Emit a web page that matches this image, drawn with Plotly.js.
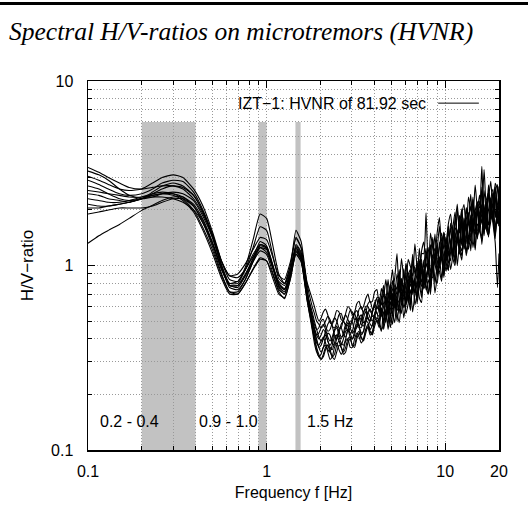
<!DOCTYPE html>
<html>
<head>
<meta charset="utf-8">
<script src="https://cdn.plot.ly/plotly-3.0.1.min.js"></script>
<style>html,body{margin:0;padding:0;background:#fff;}#wrap{position:relative;width:528px;height:529px;}#chart{width:528px;height:529px;}#rule{position:absolute;left:0;top:2px;width:528px;height:3px;background:#000;z-index:5;}</style>
</head>
<body>
<div id="wrap"><div id="chart"></div><div id="rule"></div></div>
<script>
// Frequencies (Hz)
const freq = [0.1, 0.115, 0.13, 0.15, 0.17, 0.2, 0.23, 0.26, 0.3, 0.34, 0.39, 0.44, 0.5, 0.56, 0.62, 0.69, 0.76, 0.84, 0.92, 1.0, 1.08, 1.17, 1.26, 1.36, 1.46, 1.56, 1.68,
  1.799, 1.851, 1.905, 1.961, 2.018, 2.077, 2.138, 2.2, 2.265, 2.331, 2.399, 2.469, 2.541, 2.616, 2.692, 2.771, 2.851, 2.935, 3.02, 3.109, 3.199, 3.293, 3.388, 3.487, 3.589, 3.694, 3.802, 3.913, 4.027, 4.145,
  4.266, 4.391, 4.519, 4.651, 4.786, 4.926, 5.07, 5.218, 5.37, 5.527, 5.689, 5.855, 6.026, 6.202, 6.383, 6.57, 6.761, 6.959, 7.161, 7.371, 7.586, 7.808, 8.035, 8.27, 8.511, 8.76, 9.016, 9.279, 9.55, 9.829,
  10.12, 10.41, 10.72, 11.03, 11.35, 11.68, 12.02, 12.38, 12.74, 13.11, 13.49, 13.89, 14.29, 14.71, 15.14, 15.58, 16.03, 16.5, 16.98, 17.48, 17.99, 18.51, 19.05, 19.61, 20.0];

// H/V ratio curves (one per time window)
const curve01 = [3.4, 3.2, 3.0, 2.8, 2.65, 2.6, 2.65, 2.7, 2.7, 2.6, 2.3, 1.9, 1.45, 1.05, 0.88, 0.86, 0.95, 1.12, 1.25, 1.18, 0.98, 0.82, 0.78, 0.95, 1.25, 1.1, 0.72,
  0.56, 0.5, 0.45, 0.41, 0.39, 0.4, 0.44, 0.48, 0.5, 0.47, 0.42, 0.4, 0.43, 0.48, 0.5, 0.47, 0.44, 0.46, 0.52, 0.55, 0.5, 0.47, 0.5, 0.56, 0.58, 0.52, 0.5, 0.56, 0.62, 0.58,
  0.61, 0.54, 0.7, 0.62, 0.54, 0.78, 0.64, 0.75, 0.57, 0.9, 0.74, 0.68, 0.92, 0.64, 0.86, 1.09, 0.79, 0.76, 1.04, 0.92, 0.76, 1.18, 1.05, 0.92, 1.42, 1.03, 1.22, 0.97, 1.42, 1.22,
  1.07, 1.56, 1.27, 1.1, 1.85, 1.46, 1.32, 1.77, 1.23, 2.03, 1.74, 1.53, 2.35, 1.51, 2.0, 1.77, 2.66, 1.74, 1.57, 2.39, 2.12, 1.73, 2.68, 1.98, 2.31];
const curve02 = [3.25, 3.1, 2.9, 2.6, 2.4, 2.3, 2.35, 2.45, 2.5, 2.45, 2.25, 1.85, 1.4, 1.0, 0.78, 0.76, 0.88, 1.1, 1.35, 1.28, 1.02, 0.8, 0.74, 0.92, 1.28, 1.15, 0.7,
  0.5, 0.44, 0.39, 0.36, 0.37, 0.4, 0.42, 0.39, 0.36, 0.35, 0.38, 0.42, 0.41, 0.38, 0.37, 0.4, 0.45, 0.43, 0.4, 0.42, 0.47, 0.46, 0.42, 0.44, 0.5, 0.49, 0.45, 0.48, 0.54, 0.5,
  0.51, 0.58, 0.48, 0.68, 0.53, 0.49, 0.68, 0.63, 0.57, 0.63, 0.85, 0.59, 0.65, 0.84, 0.61, 0.78, 0.85, 0.62, 0.79, 1.04, 0.75, 0.81, 1.01, 0.74, 0.97, 1.14, 0.88, 1.0, 1.14, 0.86,
  1.28, 1.03, 1.18, 1.51, 1.03, 1.41, 1.25, 1.77, 1.22, 1.43, 1.75, 1.2, 1.68, 1.96, 1.44, 1.64, 1.92, 1.45, 2.24, 1.66, 1.87, 2.16, 1.59, 2.01, 1.76];
const curve03 = [3.05, 2.9, 2.75, 2.6, 2.55, 2.6, 2.8, 3.0, 3.1, 3.0, 2.6, 2.1, 1.5, 1.05, 0.84, 0.82, 0.98, 1.38, 1.9, 1.8, 1.3, 0.9, 0.8, 1.0, 1.55, 1.35, 0.82,
  0.66, 0.6, 0.54, 0.5, 0.52, 0.56, 0.58, 0.54, 0.49, 0.48, 0.52, 0.57, 0.56, 0.51, 0.5, 0.55, 0.6, 0.58, 0.54, 0.56, 0.62, 0.64, 0.58, 0.6, 0.66, 0.7, 0.63, 0.64, 0.72, 0.74,
  0.61, 0.75, 0.68, 0.84, 0.67, 0.77, 0.95, 0.68, 0.9, 0.78, 1.09, 0.86, 0.78, 1.08, 0.99, 0.87, 1.31, 0.99, 0.9, 1.2, 1.34, 1.03, 0.97, 1.5, 1.24, 1.12, 1.51, 1.82, 1.25, 1.51,
  1.31, 1.68, 1.9, 1.47, 1.68, 2.15, 1.5, 1.91, 2.14, 1.53, 2.35, 2.01, 1.85, 2.73, 2.04, 2.41, 1.9, 3.31, 2.08, 2.35, 2.86, 1.98, 2.79, 2.57, 2.23];
const curve04 = [2.9, 2.75, 2.6, 2.45, 2.4, 2.45, 2.6, 2.8, 2.9, 2.85, 2.5, 2.0, 1.45, 1.0, 0.8, 0.8, 0.95, 1.25, 1.62, 1.55, 1.15, 0.85, 0.8, 1.0, 1.42, 1.25, 0.78,
  0.46, 0.4, 0.35, 0.32, 0.31, 0.33, 0.36, 0.37, 0.34, 0.32, 0.33, 0.37, 0.39, 0.36, 0.34, 0.36, 0.4, 0.41, 0.37, 0.37, 0.42, 0.44, 0.4, 0.4, 0.45, 0.48, 0.43, 0.44, 0.5, 0.52,
  0.5, 0.45, 0.48, 0.58, 0.45, 0.54, 0.48, 0.61, 0.55, 0.49, 0.64, 0.74, 0.55, 0.62, 0.74, 0.56, 0.7, 0.83, 0.67, 0.63, 0.96, 0.76, 0.7, 0.88, 0.98, 0.71, 0.87, 1.11, 0.85, 1.05,
  0.93, 1.21, 0.95, 1.13, 1.44, 1.0, 1.29, 1.2, 1.54, 1.13, 1.35, 1.8, 1.25, 1.53, 1.42, 1.89, 1.3, 1.74, 2.14, 1.47, 1.74, 1.99, 1.45, 1.94, 1.64];
const curve05 = [2.7, 2.6, 2.45, 2.3, 2.25, 2.3, 2.45, 2.6, 2.7, 2.65, 2.4, 1.95, 1.4, 0.98, 0.76, 0.74, 0.84, 1.05, 1.3, 1.26, 1.0, 0.76, 0.7, 0.9, 1.3, 1.18, 0.72,
  0.52, 0.46, 0.42, 0.4, 0.42, 0.45, 0.43, 0.39, 0.37, 0.39, 0.44, 0.46, 0.42, 0.4, 0.43, 0.48, 0.47, 0.43, 0.44, 0.5, 0.52, 0.47, 0.46, 0.52, 0.56, 0.52, 0.5, 0.56, 0.6, 0.55,
  0.53, 0.67, 0.62, 0.53, 0.61, 0.74, 0.58, 0.62, 0.74, 0.9, 0.65, 0.73, 0.64, 0.89, 0.95, 0.73, 0.83, 1.05, 0.76, 0.92, 0.86, 1.07, 1.25, 0.88, 0.86, 1.14, 1.28, 1.04, 1.19, 1.52,
  1.09, 1.25, 1.61, 1.12, 1.5, 1.33, 1.87, 1.33, 1.6, 1.87, 1.35, 1.79, 2.25, 1.62, 1.54, 2.24, 1.91, 1.48, 2.26, 2.48, 1.78, 1.96, 2.67, 1.8, 2.22];
const curve06 = [2.55, 2.5, 2.45, 2.4, 2.35, 2.35, 2.4, 2.45, 2.45, 2.35, 2.1, 1.7, 1.25, 0.9, 0.72, 0.7, 0.8, 0.95, 1.08, 1.06, 0.9, 0.72, 0.66, 0.85, 1.18, 1.08, 0.68,
  0.48, 0.41, 0.36, 0.33, 0.31, 0.32, 0.35, 0.37, 0.35, 0.32, 0.31, 0.34, 0.37, 0.36, 0.33, 0.34, 0.38, 0.4, 0.37, 0.36, 0.4, 0.43, 0.41, 0.39, 0.43, 0.47, 0.44, 0.42, 0.47, 0.5,
  0.48, 0.44, 0.56, 0.54, 0.48, 0.64, 0.55, 0.49, 0.66, 0.62, 0.55, 0.78, 0.61, 0.69, 0.57, 0.83, 0.78, 0.65, 0.96, 0.71, 0.78, 0.92, 0.7, 0.88, 1.08, 0.8, 1.0, 0.93, 0.82, 1.2,
  1.03, 0.94, 1.32, 1.19, 1.04, 1.56, 1.23, 1.07, 1.5, 1.66, 1.22, 1.46, 1.72, 1.24, 2.01, 1.53, 1.44, 1.98, 1.77, 1.43, 2.16, 1.75, 1.52, 2.05, 1.63];
const curve07 = [2.45, 2.4, 2.3, 2.25, 2.2, 2.3, 2.5, 2.7, 2.8, 2.7, 2.4, 1.95, 1.45, 1.05, 0.88, 0.9, 1.02, 1.22, 1.42, 1.38, 1.12, 0.88, 0.84, 1.05, 1.4, 1.25, 0.8,
  0.6, 0.55, 0.5, 0.48, 0.46, 0.47, 0.5, 0.53, 0.51, 0.47, 0.46, 0.49, 0.54, 0.55, 0.5, 0.48, 0.52, 0.57, 0.56, 0.51, 0.52, 0.58, 0.6, 0.55, 0.56, 0.62, 0.64, 0.58, 0.6, 0.67,
  0.67, 0.61, 0.74, 0.65, 0.84, 0.65, 0.74, 0.86, 1.16, 0.71, 0.85, 0.74, 1.03, 0.88, 0.81, 1.15, 0.9, 1.02, 0.84, 1.16, 1.16, 1.93, 0.99, 1.18, 1.39, 1.01, 1.22, 1.63, 1.17, 1.47,
  1.32, 1.64, 1.29, 1.6, 1.95, 1.45, 1.65, 2.03, 1.48, 1.96, 1.83, 1.53, 2.29, 1.86, 2.2, 2.05, 3.45, 1.91, 1.84, 2.52, 2.11, 2.46, 1.82, 2.75, 2.31];
const curve08 = [2.3, 2.25, 2.2, 2.2, 2.25, 2.35, 2.45, 2.5, 2.45, 2.3, 2.0, 1.6, 1.2, 0.88, 0.72, 0.72, 0.84, 1.05, 1.25, 1.22, 0.98, 0.78, 0.74, 0.93, 1.25, 1.12, 0.7,
  0.5, 0.45, 0.42, 0.43, 0.46, 0.48, 0.45, 0.41, 0.39, 0.41, 0.45, 0.47, 0.44, 0.41, 0.42, 0.46, 0.49, 0.46, 0.43, 0.45, 0.5, 0.52, 0.48, 0.47, 0.52, 0.56, 0.52, 0.5, 0.55, 0.6,
  0.58, 0.55, 0.5, 0.68, 0.62, 0.53, 0.71, 0.6, 0.67, 0.83, 0.61, 0.67, 0.79, 0.63, 0.9, 0.81, 0.71, 0.81, 1.08, 0.77, 0.83, 1.02, 0.92, 0.8, 1.07, 1.24, 0.92, 1.0, 1.31, 0.99,
  1.39, 1.14, 1.29, 1.65, 1.15, 1.34, 1.59, 1.28, 1.81, 1.49, 1.3, 1.87, 1.68, 1.51, 2.17, 1.62, 1.75, 2.14, 1.58, 2.01, 2.33, 1.69, 1.33, 0.76, 1.16];
const curve09 = [2.15, 2.1, 2.1, 2.15, 2.2, 2.3, 2.35, 2.35, 2.3, 2.2, 2.0, 1.7, 1.3, 0.95, 0.78, 0.78, 0.88, 1.05, 1.2, 1.15, 0.92, 0.74, 0.7, 0.88, 1.15, 1.05, 0.66,
  0.47, 0.42, 0.38, 0.37, 0.39, 0.41, 0.38, 0.35, 0.34, 0.37, 0.41, 0.42, 0.39, 0.37, 0.4, 0.44, 0.45, 0.41, 0.4, 0.44, 0.48, 0.47, 0.43, 0.44, 0.49, 0.52, 0.48, 0.47, 0.53, 0.56,
  0.48, 0.59, 0.55, 0.49, 0.7, 0.59, 0.54, 0.7, 0.66, 0.55, 0.8, 0.75, 0.63, 0.72, 0.93, 0.7, 0.81, 0.67, 0.93, 1.08, 0.77, 0.87, 0.99, 0.75, 1.14, 1.02, 0.9, 1.34, 1.06, 0.94,
  1.3, 1.17, 1.06, 1.55, 1.22, 1.44, 1.15, 1.67, 1.49, 1.31, 1.94, 1.45, 1.57, 1.92, 1.39, 1.84, 2.14, 1.57, 1.85, 1.43, 2.18, 1.84, 2.41, 1.68, 1.98];
const curve10 = [2.05, 2.05, 2.1, 2.15, 2.2, 2.3, 2.4, 2.45, 2.4, 2.25, 1.95, 1.55, 1.15, 0.85, 0.7, 0.7, 0.8, 0.96, 1.1, 1.06, 0.86, 0.7, 0.67, 0.85, 1.15, 1.05, 0.66,
  0.45, 0.38, 0.34, 0.32, 0.33, 0.36, 0.37, 0.34, 0.31, 0.32, 0.36, 0.38, 0.35, 0.33, 0.35, 0.39, 0.4, 0.36, 0.36, 0.4, 0.43, 0.41, 0.38, 0.4, 0.45, 0.46, 0.42, 0.43, 0.49, 0.5,
  0.46, 0.58, 0.45, 0.53, 0.59, 0.46, 0.54, 0.68, 0.5, 0.61, 0.71, 0.52, 0.62, 0.74, 0.63, 0.87, 0.61, 0.7, 0.79, 0.67, 0.95, 0.74, 0.84, 0.7, 1.01, 0.86, 0.8, 1.05, 1.22, 0.88,
  1.11, 0.94, 1.34, 1.1, 1.0, 1.4, 1.26, 1.13, 1.64, 1.17, 1.46, 1.36, 1.74, 1.21, 1.68, 1.56, 1.37, 2.0, 1.57, 1.46, 1.94, 1.79, 1.4, 2.08, 1.68];
const curve11 = [1.9, 1.95, 2.0, 2.05, 2.05, 2.05, 2.1, 2.2, 2.3, 2.3, 2.1, 1.75, 1.3, 0.95, 0.8, 0.82, 0.95, 1.15, 1.3, 1.25, 1.0, 0.8, 0.75, 0.92, 1.22, 1.1, 0.72,
  0.54, 0.48, 0.45, 0.46, 0.5, 0.51, 0.47, 0.44, 0.45, 0.49, 0.52, 0.5, 0.46, 0.46, 0.51, 0.54, 0.51, 0.48, 0.5, 0.55, 0.57, 0.53, 0.51, 0.55, 0.6, 0.6, 0.56, 0.57, 0.63, 0.66,
  0.55, 0.67, 0.78, 0.61, 0.68, 0.79, 0.6, 0.79, 0.74, 0.95, 0.7, 0.77, 1.0, 0.85, 0.77, 1.02, 0.96, 0.84, 1.24, 0.93, 1.01, 1.24, 0.93, 1.19, 1.11, 1.48, 1.0, 1.27, 1.5, 1.23,
  1.41, 1.21, 1.7, 1.46, 1.36, 2.02, 1.51, 1.79, 1.42, 2.06, 1.76, 2.43, 1.66, 1.98, 2.22, 1.62, 2.51, 2.05, 1.91, 2.74, 1.88, 2.48, 2.29, 1.87, 2.68];
const curve12 = [1.32, 1.45, 1.55, 1.67, 1.8, 1.99, 2.12, 2.25, 2.35, 2.35, 2.15, 1.78, 1.32, 0.96, 0.78, 0.78, 0.9, 1.08, 1.28, 1.24, 0.98, 0.77, 0.72, 0.9, 1.2, 1.08, 0.7,
  0.5, 0.44, 0.4, 0.36, 0.34, 0.36, 0.4, 0.43, 0.42, 0.38, 0.37, 0.4, 0.45, 0.46, 0.42, 0.41, 0.45, 0.5, 0.49, 0.45, 0.46, 0.52, 0.54, 0.49, 0.5, 0.56, 0.58, 0.53, 0.54, 0.61,
  0.66, 0.53, 0.6, 0.67, 0.54, 0.67, 0.83, 0.64, 0.61, 0.78, 0.73, 0.96, 0.68, 0.74, 0.92, 0.82, 0.71, 1.03, 0.92, 0.81, 1.07, 0.81, 0.98, 1.3, 0.95, 1.11, 1.31, 0.99, 1.16, 1.5,
  1.11, 1.52, 1.31, 1.15, 1.6, 1.5, 1.32, 1.96, 1.55, 1.4, 1.79, 2.09, 1.62, 1.48, 2.14, 1.91, 1.71, 2.55, 1.92, 1.66, 2.28, 2.6, 1.82, 2.14, 2.58];

// Highlighted frequency bands [from, to] in Hz, their value span, and labels
const bands = [[0.2, 0.4], [0.9, 1.0], [1.45, 1.55]];
const bandTop = 6;
const bandBottom = 0.1;
const bandLabels = ['0.2 - 0.4', '0.9 - 1.0', '1.5 Hz'];

// Ticks
const xTickVals = [0.1, 1, 10, 20];
const xTickText = ['0.1', '1', '10', '20'];
const xMinorVals = [0.2, 0.3, 0.4, 0.5, 0.6, 0.7, 0.8, 0.9, 2, 3, 4, 5, 6, 7, 8, 9];
const yTickVals = [0.1, 1, 10];
const yTickText = ['0.1', '1', '10'];
const yMinorVals = [0.2, 0.3, 0.4, 0.5, 0.6, 0.7, 0.8, 0.9, 2, 3, 4, 5, 6, 7, 8, 9];

const legendText = 'IZT\u22121: HVNR of 81.92 sec';
const titleText = 'Spectral H/V-ratios on microtremors (HVNR)';

const curves = [curve01, curve02, curve03, curve04, curve05, curve06, curve07, curve08, curve09, curve10, curve11, curve12];

const traces = curves.map(c => ({
  x: freq, y: c, type: 'scatter', mode: 'lines',
  line: {color: '#000', width: 1.1, shape: 'spline', smoothing: 0.5},
  showlegend: false, hoverinfo: 'skip'
}));

const F = 'Liberation Sans, Arial, sans-serif';
const gridStyle = {showgrid: true, gridcolor: '#999', griddash: '1px,2px', gridwidth: 1};

const shapes = bands.map(b => ({
  type: 'rect', xref: 'x', yref: 'y', layer: 'below',
  x0: b[0], x1: b[1], y0: bandBottom, y1: bandTop,
  fillcolor: 'rgba(128,128,128,0.48)', line: {width: 0}
}));
// legend sample line
shapes.push({type: 'line', xref: 'paper', yref: 'paper', x0: 0.852, x1: 0.951, y0: 0.94, y1: 0.94, line: {color: '#000', width: 1}});

const labelX = [0.0998, 0.342, 0.589];
const annotations = bandLabels.map((t, i) => ({
  text: t, xref: 'paper', yref: 'paper', x: labelX[i], y: 0.076, showarrow: false,
  xanchor: 'center', yanchor: 'middle', font: {family: F, size: 16, color: '#000'}
}));
annotations.push({text: legendText, xref: 'paper', yref: 'paper', x: 0.827, y: 0.94, showarrow: false,
  xanchor: 'right', yanchor: 'middle', font: {family: F, size: 16, color: '#000'}});

const layout = {
  width: 528, height: 529,
  margin: {l: 88, r: 29, t: 81, b: 79},
  paper_bgcolor: '#fff', plot_bgcolor: '#fff',
  title: {text: '<i>' + titleText + '</i>', font: {family: 'Liberation Serif, Times New Roman, serif', size: 25.5, color: '#000'},
    x: 9 / 528, xanchor: 'left', xref: 'container', y: 1 - 31 / 529, yref: 'container', yanchor: 'middle'},
  xaxis: Object.assign({
    type: 'log', range: [-1, Math.log10(20)], tickmode: 'array', tickvals: xTickVals, ticktext: xTickText,
    ticks: 'inside', ticklen: 7, tickcolor: '#000', tickwidth: 1,
    showline: true, linecolor: '#000', linewidth: 1.5, mirror: 'allticks', zeroline: false,
    tickfont: {family: F, size: 16, color: '#000'}, ticklabelstandoff: 6,
    title: {text: 'Frequency f [Hz]', font: {family: F, size: 16, color: '#000'}, standoff: 8},
    minor: Object.assign({tickmode: 'array', tickvals: xMinorVals, ticks: 'inside', ticklen: 4, tickcolor: '#000'}, gridStyle)
  }, gridStyle),
  yaxis: Object.assign({
    type: 'log', range: [-1, 1], tickmode: 'array', tickvals: yTickVals, ticktext: yTickText,
    ticks: 'inside', ticklen: 7, tickcolor: '#000', tickwidth: 1,
    showline: true, linecolor: '#000', linewidth: 1.5, mirror: 'allticks', zeroline: false,
    tickfont: {family: F, size: 16, color: '#000'}, ticklabelstandoff: 10,
    title: {text: 'H/V\u2212ratio', font: {family: F, size: 17, color: '#000'}, standoff: 13},
    minor: Object.assign({tickmode: 'array', tickvals: yMinorVals, ticks: 'inside', ticklen: 4, tickcolor: '#000'}, gridStyle)
  }, gridStyle),
  shapes: shapes,
  annotations: annotations,
  showlegend: false
};

Plotly.newPlot('chart', traces, layout, {displayModeBar: false, staticPlot: true});
</script>
</body>
</html>
